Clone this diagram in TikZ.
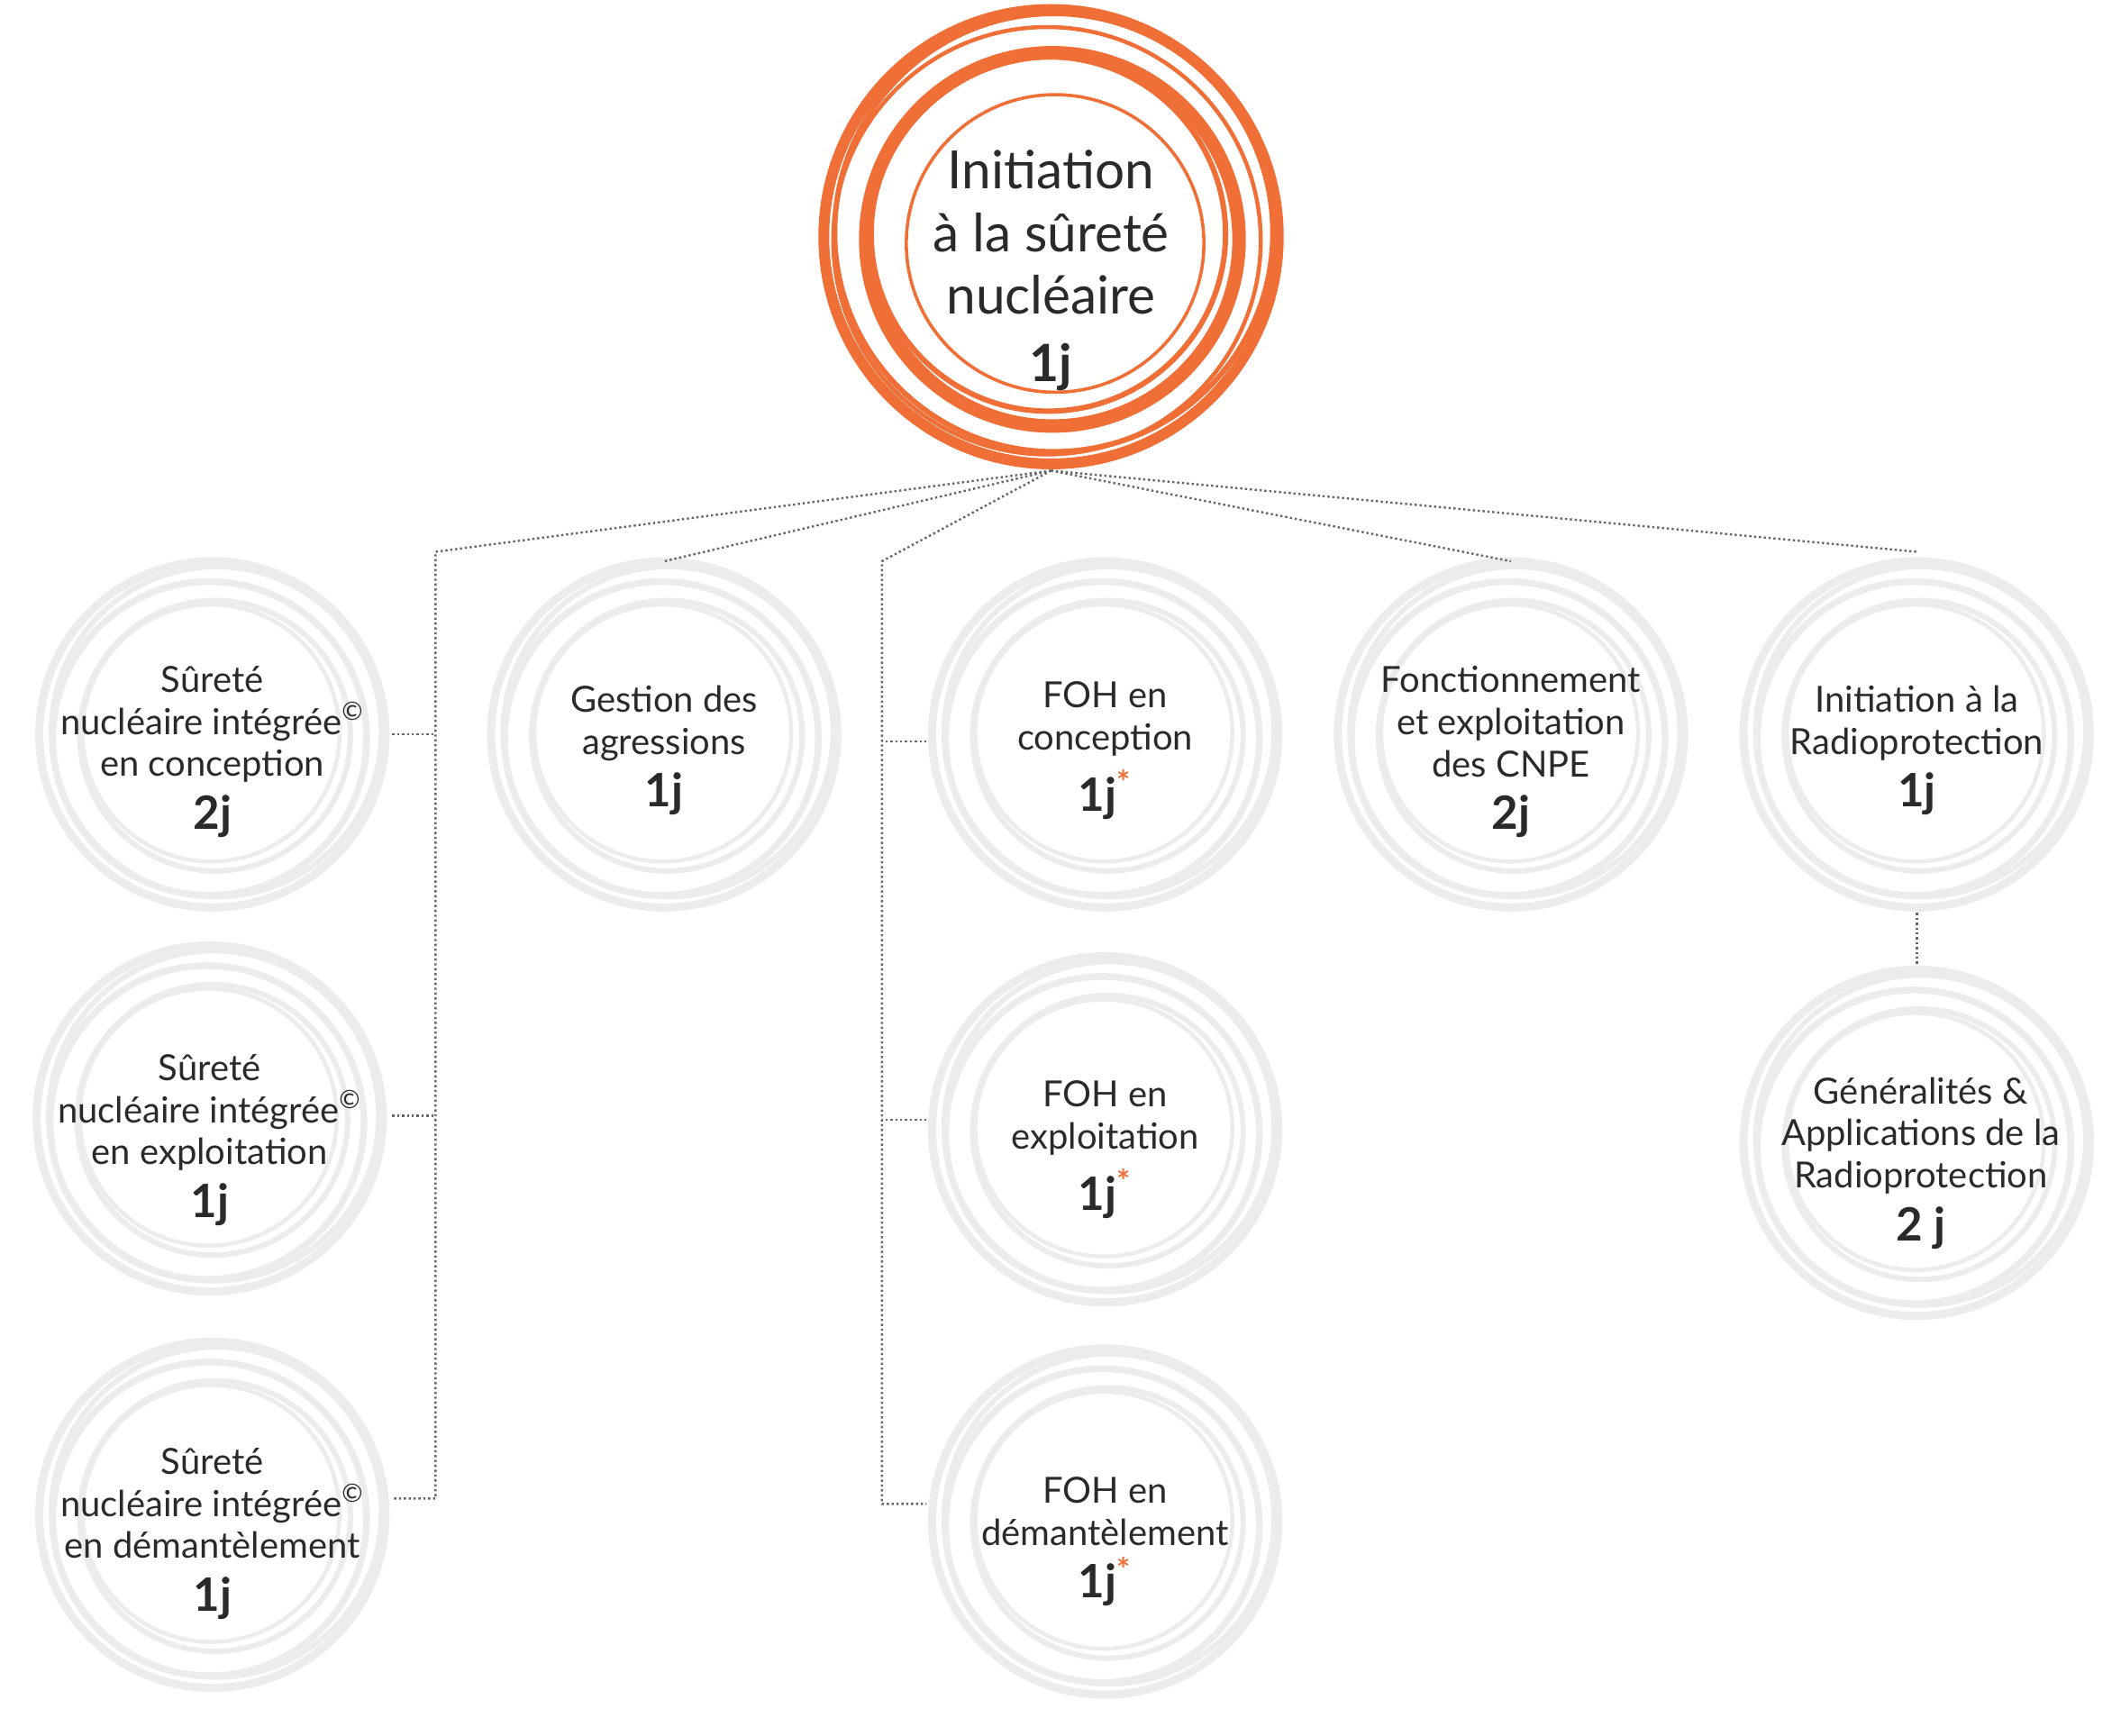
\documentclass[tikz,border=0pt]{standalone}
\usepackage{fontspec}
\setmainfont{Lato}
\definecolor{org}{HTML}{EF6F37}
\definecolor{gr}{HTML}{ECECEE}
\definecolor{txt}{HTML}{2A2A2A}
\begin{document}
\begin{tikzpicture}[x=0.5pt,y=-0.5pt,
  conn/.style={densely dotted,line width=0.8pt,color=gray!80!black},
  lbl/.style={align=center,text=txt,font=\fontsize{13.3}{15.5}\selectfont}]
\useasboundingbox (0,0) rectangle (1568,1283);
\newcommand{\grc}[2]{%
  \draw[gr,line width=3pt] (#1,#2) circle (128);
  \draw[gr,line width=2pt] (#1+3,#2-2) circle (122);
  \draw[gr,line width=2.5pt] (#1-2,#2+3) circle (116);
  \draw[gr,line width=2pt] (#1+2,#2+1) circle (100);
  \draw[gr,line width=1.5pt] (#1-1,#2-1) circle (95);}
\grc{157}{543}\grc{491}{543}\grc{817}{543}\grc{1117}{543}\grc{1417}{543}
\grc{155}{827}\grc{817}{835}\grc{1417}{845}\grc{157}{1120}\grc{817}{1125}
\draw[org,line width=4pt] (777,175) circle (168);
\draw[org,line width=2pt] (779,172) circle (162);
\draw[org,line width=1.5pt] (774,178) circle (158);
\draw[org,line width=5pt] (778,177) circle (138);
\draw[org,line width=2pt] (775,173) circle (131);
\draw[org,line width=1.2pt] (780,180) circle (110);
\node[align=center,text=txt,font=\fontsize{19.5}{23}\selectfont] (top) at (777,200)
  {Initiation\\à la sûreté\\nucléaire\\[2pt]{\bfseries\fontsize{19}{20}\selectfont 1j}};
\node[lbl] (a1) at (157,556) {Sûreté\\nucléaire intégrée\textsuperscript{©}\\en conception\\[4pt]{\bfseries\fontsize{17}{18}\selectfont 2j}};
\node[lbl] (a2) at (155,843) {Sûreté\\nucléaire intégrée\textsuperscript{©}\\en exploitation\\[4pt]{\bfseries\fontsize{17}{18}\selectfont 1j}};
\node[lbl] (a3) at (157,1134) {Sûreté\\nucléaire intégrée\textsuperscript{©}\\en démantèlement\\[4pt]{\bfseries\fontsize{17}{18}\selectfont 1j}};
\node[lbl] (b1) at (491,555) {Gestion des\\agressions\\[4pt]{\bfseries\fontsize{17}{18}\selectfont 1j}};
\node[lbl] (c1) at (817,555) {FOH en\\conception\\[4pt]{\bfseries\fontsize{17}{18}\selectfont 1j\textsuperscript{\textcolor{org}{*}}}};
\node[lbl] (c2) at (817,850) {FOH en\\exploitation\\[4pt]{\bfseries\fontsize{17}{18}\selectfont 1j\textsuperscript{\textcolor{org}{*}}}};
\node[lbl] (c3) at (817,1140) {FOH en\\démantèlement\\[4pt]{\bfseries\fontsize{17}{18}\selectfont 1j\textsuperscript{\textcolor{org}{*}}}};
\node[lbl] (d1) at (1117,556) {Fonctionnement\\et exploitation\\des CNPE\\[4pt]{\bfseries\fontsize{17}{18}\selectfont 2j}};
\node[lbl] (e1) at (1417,555) {Initiation à la\\Radioprotection\\[4pt]{\bfseries\fontsize{17}{18}\selectfont 1j}};
\node[lbl] (e2) at (1420,860) {Généralités \&\\Applications de la\\Radioprotection\\[4pt]{\bfseries\fontsize{17}{18}\selectfont 2 j}};
\coordinate (o) at (777,348);
\coordinate (la) at (322,408); \coordinate (lb) at (322,1108);
\coordinate (s1) at (290,543); \coordinate (s2) at (290,825); \coordinate (s3) at (290,1108);
\coordinate (bt) at (491,415);
\coordinate (ca) at (652,415); \coordinate (cb) at (652,1112);
\coordinate (t1) at (685,548); \coordinate (t2) at (685,828); \coordinate (t3) at (685,1112);
\coordinate (dt) at (1117,415); \coordinate (et) at (1417,408);
\coordinate (eb) at (1417,675); \coordinate (ec) at (1417,714);
\draw[conn] (o) -- (la) -- (lb) -- (s3);
\draw[conn] (s1) -- (s1-|la); \draw[conn] (s2) -- (s2-|la);
\draw[conn] (o) -- (bt);
\draw[conn] (o) -- (ca) -- (cb) -- (t3);
\draw[conn] (t1) -- (t1-|ca); \draw[conn] (t2) -- (t2-|ca);
\draw[conn] (o) -- (dt);
\draw[conn] (o) -- (et);
\draw[conn] (eb) -- (ec);
\end{tikzpicture}
\end{document}
